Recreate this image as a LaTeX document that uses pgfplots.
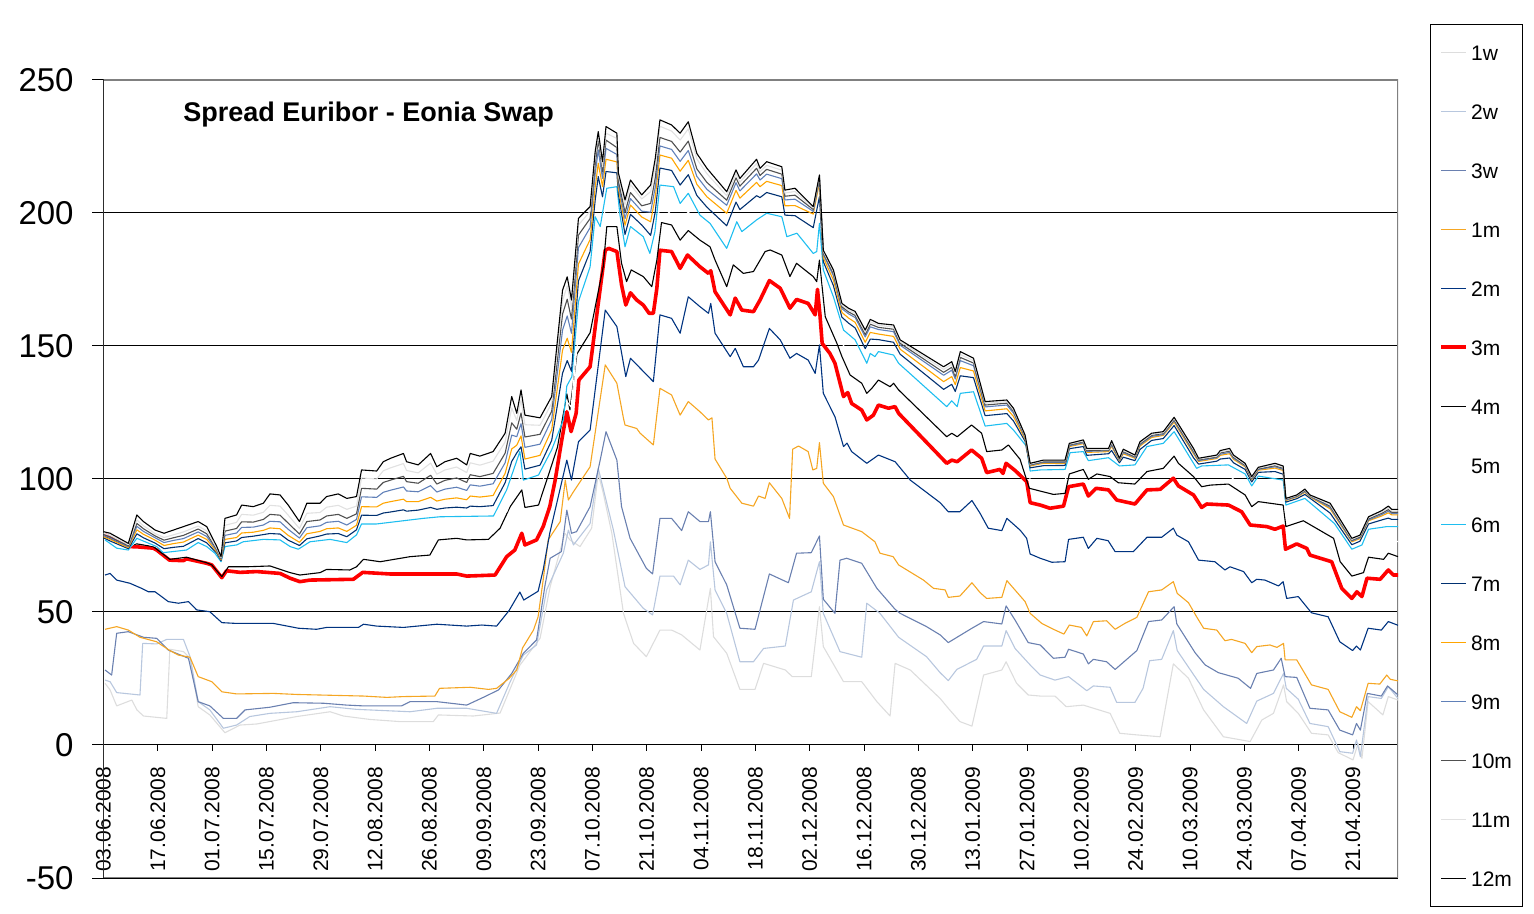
\documentclass[border=0pt]{standalone}
\usepackage{pgfplots}
\pgfplotsset{compat=1.18}
\usepackage{pgfplotstable}
\usepackage{fontspec}
\setmainfont{Liberation Sans}
\definecolor{c1w}{RGB}{221,221,221}
\definecolor{c2w}{RGB}{184,199,222}
\definecolor{c3w}{RGB}{106,128,176}
\definecolor{c1m}{RGB}{245,166,35}
\definecolor{c2m}{RGB}{0,51,128}
\definecolor{c6m}{RGB}{30,190,240}
\definecolor{c7m}{RGB}{0,48,112}
\definecolor{c8m}{RGB}{255,165,0}
\definecolor{c9m}{RGB}{96,128,184}
\definecolor{c10m}{RGB}{80,80,80}
\definecolor{c11m}{RGB}{225,225,225}
\definecolor{frame}{RGB}{128,128,128}

% upper cluster: 12m, 11m, 10m, 9m, 8m, 7m
\pgfplotstableread{
d s12 s11 s10 s9 s8 s7
0 80.2 79.6 79.2 78.8 78.3 77.9
1.7 79.6 78.8 78.3 77.8 77.3 76.7
6.4 75.8 75.3 74.9 74.6 74.2 73.8
8.6 86.5 84.6 83.3 82.2 80.9 79.4
10.3 84 82.4 81.3 80.3 79.2 77.9
13.3 80.8 79.5 78.6 77.9 77 75.9
15.6 79.6 78 77 76.1 75 73.8
18 80.8 79 77.9 76.9 75.7 74.3
20.6 82.1 80.1 78.8 77.6 76.3 74.7
24.4 84 82.3 81.2 80.1 78.9 77.6
26.6 82.1 80.5 79.4 78.4 77.3 76
29.2 74.6 73.9 73.5 73.1 72.6 72.1
30.3 70.8 70.4 70.1 69.9 69.6 69.3
31.3 85.2 82.6 80.4 78.8 77.3 76
34.3 86.5 83.7 81.4 79.7 78 76.7
35.6 90.2 86.7 83.9 81.8 79.7 78
38.6 89.6 86.4 83.8 81.9 80 78.5
41.2 90.9 87.5 84.8 82.7 80.7 79.1
42.9 94.4 90.1 86.7 84.1 81.6 79.5
45.5 94 89.8 86.4 83.9 81.3 79.3
47.6 90.2 86.4 83.4 81.1 78.8 77
50.5 84 81.4 79.3 77.8 76.2 75
52.4 90.9 87.1 84 81.7 79.4 77.5
55.8 90.9 87.4 84.6 82.4 80.3 78.6
57.5 93.4 89.4 86.1 83.7 81.3 79.3
60.5 94.4 90.1 86.7 84.1 81.6 79.5
62.7 92.7 88.6 85.2 82.7 80.3 78.3
65.2 93.4 89.8 86.9 84.8 82.6 80.9
66.5 103.4 100.4 96.5 93.3 89.6 86.4
70.4 103 100 96.2 93.1 89.5 86.3
72.1 106.5 103.1 98.7 95 90.9 87.2
74 107.8 104.2 99.6 95.8 91.5 87.6
77.3 109.6 105.8 101 97 92.4 88.4
78.1 106.5 103.2 99 95.5 91.5 87.9
81.1 105.3 102.3 98.4 95.2 91.5 88.3
84.3 109.6 106 101.4 97.5 93.1 89.3
85.9 104.6 101.8 98.1 95.1 91.7 88.6
88 106.5 103.4 99.5 96.2 92.4 89.1
91 107.8 104.5 100.4 96.9 92.9 89.4
93.6 105.3 102.4 98.7 95.7 92.2 89.1
94.5 109.6 106.1 101.6 97.8 93.6 89.8
97 108.6 105.2 100.9 97.3 93.2 89.6
100.4 110.3 106.7 102.1 98.2 93.8 90
103.5 117.2 113.9 109.7 106.1 102.1 98.6
105.2 131 126.7 121.1 116.5 111.3 106.6
106.5 124.7 122 118.7 115.9 112.7 109.8
107.6 133.5 129.7 124.8 120.8 116.2 112.1
108.6 124 120.4 115.8 111.9 107.5 103.7
112.5 123 120.2 116.8 113.1 108.9 105.2
115.5 131 128.5 125.5 122.3 118.5 114.5
118.3 171 167 162 156 148.5 139.8
119.5 176 172.6 167.6 161.3 152.9 144.5
120.6 167.3 164.4 160.1 154.8 147.6 140.5
122.4 198 195.5 191.7 187 180.8 174.5
125.4 202.4 200.6 197.9 194.5 190 185.5
126.7 223 221.1 218.1 214.5 209.6 204.7
127.5 230.6 229.3 227.4 223.7 218.7 213.7
128.6 219.3 217.4 215.5 213 209.9 206.1
129.5 232.5 230 227.4 224.3 220.2 215.6
132.3 230 228 224.6 222 219.2 215.1
132.7 215 213.9 212 210.6 209.1 206.9
134.4 204.9 203.1 200.2 197.9 195.4 191.9
135.8 212.4 210.7 207.7 205.4 203 199.5
138.7 206.8 205.3 202.7 200.7 198.5 195.5
141 210.5 208 203.6 200.3 196.7 191.6
142.2 220.6 217.9 213.3 209.8 206 200.5
143.4 235 232.6 228.4 225.2 221.8 216.9
146.4 233.1 230.8 226.9 223.9 220.6 216
148.6 230 227.4 222.9 219.4 215.7 210.5
150.7 234.3 231.6 227 223.5 219.8 214.4
152.9 222.4 220.3 216.6 213.8 210.8 206.6
155.5 216.8 214.8 211.5 208.9 206.1 202.2
160.6 208 206.5 204.8 202.9 199.9 195.2
163 216.2 214.8 213.2 211.4 208.5 204.1
164 213 211.6 210.1 208.3 205.6 201.3
168.3 220.2 218.6 216.8 214.7 211.5 206.5
169.2 216.8 215.5 214.1 212.4 209.9 205.8
170.9 219.3 217.9 216.4 214.6 211.9 207.7
174.8 217.4 216.1 214.6 212.9 210.3 206.1
175.6 208.6 207.5 206.3 204.9 202.7 199.2
178.2 209.3 208.1 206.7 205.2 202.8 199
182.9 202.4 201.9 201.3 200.6 199.6 194.5
184.5 214.3 213.8 213.2 212.5 211.4 206.1
185.5 186 185.5 185 184.4 183.2 181.7
188.1 178.6 177.9 177.2 176.4 174.8 172.7
190.3 166 165.4 164.7 164 162.6 160.8
192 164.2 163.5 162.8 162.1 160.5 158.6
193.7 163 162.3 161.5 160.7 158.9 156.8
196.3 156 155.2 154.3 153.4 151.4 149
197.6 160 159.1 158.2 157.2 155.1 152.6
199.7 158.5 157.8 157 156.2 154.5 152.4
203.6 157.9 157.1 156.3 155.4 153.6 151.4
205.3 152.3 151.7 151 150.3 148.8 146.9
216.5 142.2 141.2 140.1 139 136.6 133.7
218.6 144.1 143.1 142 140.9 138.5 135.6
219.5 140.4 139.5 138.6 137.6 135.5 132.9
220.8 147.9 146.8 145.7 144.5 141.9 138.8
224.2 145.4 144.5 143.6 142.6 140.6 138.1
227.2 129.1 128.5 127.8 127.1 125.6 123.8
232.8 129.7 129.1 128.5 127.8 126.4 124.6
234.5 126.6 126 125.5 124.8 123.5 121.8
237.5 116.5 116.2 115.9 115.6 115 114.2
238.8 105.9 105.6 105.4 105.2 104.9 104.2
242.2 107.1 106.8 106.5 106.2 105.9 105
247.8 107.1 106.8 106.5 106.2 105.9 105.1
248.9 113.4 113.1 112.8 112.5 112.2 111.4
252.5 114.7 114.3 114 113.6 113.3 112.2
253.4 111.5 111.1 110.7 110.4 110 108.9
259 111.5 111.2 110.9 110.6 110.3 109.5
259.8 114.4 113.8 113.3 112.8 112.3 110.7
261.8 107.8 107.5 107.3 107.1 106.8 106.1
262.8 111.2 110.7 110.3 109.9 109.5 108.2
265.8 109 108.7 108.4 108.1 107.8 106.9
267.1 114 113.6 113.2 112.8 112.4 111.1
270.1 117.2 116.8 116.4 116 115.6 114.5
273.1 117.8 117.4 117.1 116.7 116.4 115.2
275.9 123.2 122.7 122.3 121.9 121.4 120.1
280.9 111.5 111 110.5 110 109.5 108
282.2 107.8 107.5 107.2 106.9 106.6 105.6
286.9 109 108.6 108.3 108 107.7 106.7
287.8 110.7 110.2 109.8 109.3 108.9 107.5
290.2 111.5 110.9 110.5 110 109.5 107.9
291.2 109 108.6 108.2 107.8 107.4 106.1
294.2 105.9 105.5 105.2 104.9 104.6 103.6
295.9 100.9 100.6 100.3 100 99.7 98.9
297.6 104.4 104.1 103.8 103.6 103.3 102.5
301.9 105.9 105.4 105 104.6 104.1 102.8
304 104.9 104.4 104 103.6 103.2 101.8
304.7 92.7 92.5 92.3 92.1 91.9 91.3
307.5 94 93.8 93.6 93.4 93.2 92.6
309.6 96.2 95.9 95.6 95.3 95 94.2
310.9 94 93.8 93.7 93.5 93.3 92.8
316.1 90.9 90.3 89.8 89.3 88.8 87.2
321.7 77.7 77.3 77 76.7 76.4 75.3
323.8 78.9 78.6 78.2 77.9 77.6 76.6
326 85.8 85.4 85 84.6 84.3 83.1
329.4 88.1 87.6 87.1 86.6 86.1 84.6
331.1 89.8 89.1 88.5 87.9 87.3 85.3
332 88.6 88 87.5 87 86.5 84.8
333.6 88.6 88 87.5 87 86.5 84.8
}\upper

\begin{document}
\begin{tikzpicture}
\path[use as bounding box] (-51.75bp,-18bp) rectangle (715.25bp,439bp);
\begin{axis}[
  scale only axis, width=647.25bp, height=399bp,
  xmin=0, xmax=333.6, ymin=-50, ymax=250,
  enlargelimits=false,
  axis x line=middle, axis y line=left,
  axis line style={-, black, line width=0.5bp},
  x axis line style={-}, y axis line style={-},
  hide obscured x ticks=false, hide obscured y ticks=false,
  xtick align=center, ytick align=outside, ytick pos=left,
  xtick style={black, line width=0.5bp, /pgfplots/major tick length=3bp, yshift=-1.5bp},
  ytick style={black, line width=0.5bp, /pgfplots/major tick length=5.7bp},
  xtick={0,14,...,322},
  xticklabels={03.06.2008,17.06.2008,01.07.2008,15.07.2008,29.07.2008,12.08.2008,26.08.2008,09.09.2008,23.09.2008,07.10.2008,21.10.2008,04.11.2008,18.11.2008,02.12.2008,16.12.2008,30.12.2008,13.01.2009,27.01.2009,10.02.2009,24.02.2009,10.03.2009,24.03.2009,07.04.2009,21.04.2009},
  xticklabel shift=8.5bp,
  xticklabel style={rotate=90, anchor=east, inner sep=0pt, font=\fontsize{10.5bp}{12bp}\selectfont},
  ytick={-50,0,50,100,150,200,250},
  yticklabels={-50,0,50,100,150,200,250},
  yticklabel style={font=\fontsize{16.5bp}{18bp}\selectfont, inner sep=0pt, xshift=-10.5bp},
  ymajorgrids, major grid style={black, line width=0.5bp},
  every axis plot/.append style={line width=0.55bp, line join=round},
  legend style={at={(1.02472,1.06955)}, anchor=north west, draw=black, line width=0.5bp,
    inner xsep=4.5bp, inner ysep=9.8bp, row sep=21.35bp,
    font=\fontsize{10.5bp}{12bp}\selectfont,
    nodes={inner sep=0pt, text height=8.15bp, text depth=0bp, text width=21bp, align=left},
    /tikz/every odd column/.append style={column sep=1.5bp}},
  legend cell align=left,
  legend image code/.code={\draw[#1] (0bp,0.25bp) -- (12.5bp,0.25bp);},
]
\draw[frame, line width=0.6bp] (rel axis cs:0,0) rectangle (rel axis cs:1,1);

% 1w
\addplot[c1w] coordinates {(0.4,23.2)(1.7,20.7)(3.4,14.7)(7.3,16.9)(8.6,13.2)(10.3,10.9)(16.3,10)(17.1,36)(20.6,35.1)(22.3,32.6)(24.4,14.4)(27.4,11.3)(31.3,4.6)(35.2,7.5)(39.5,7.9)(49.8,10.7)(58.4,12.5)(61.8,10.9)(68.7,9.6)(76.4,8.8)(85,8.8)(86.3,11.3)(95.3,10.9)(102.2,12)(107.3,30)(112.5,40.1)(115.1,59.5)(118.9,79.6)(120.2,77.1)(122.8,74.6)(125.8,81.5)(127.5,102.1)(128.8,94.6)(131,79.6)(134,49.5)(136.6,38.2)(139.9,33.2)(143.4,43.2)(146.4,43.2)(149,41.4)(153.7,35.7)(156.4,58.9)(157.2,40.7)(160.6,34.5)(164,20.9)(167.9,20.9)(170.1,30.7)(175.7,28.2)(177.5,25.7)(182.4,25.7)(184.5,52)(185.5,37)(190.7,23.8)(195.4,23.8)(199.3,16.3)(202.7,10.9)(204,30.7)(207.9,28.2)(215.6,17.5)(217.7,13.8)(220.7,8.8)(223.8,7.1)(226.8,26.3)(231.5,28.2)(232.6,31.3)(235.3,23.2)(238.3,18.8)(241.4,18.4)(245.2,18.4)(248.1,14.4)(252.5,15)(259.4,11.9)(261.9,4.4)(266.3,3.8)(272.3,3.1)(275.7,30.5)(279.6,25.1)(283.5,13.2)(288.6,3.1)(295.5,1.3)(298.5,9.4)(301.5,11.9)(304.1,22.6)(304.9,16.3)(307.9,11.9)(311.3,4.4)(315.6,3.8)(318.2,-2.9)(322,-5.6)(323.3,0.6)(324.3,-5)(325.9,16.3)(329.7,11.3)(331.1,18.2)(333.6,16.9)};
\addlegendentry{1w}
% 2w
\addplot[c2w] coordinates {(0.4,24.4)(1.7,23.8)(3.4,19.7)(9.4,18.8)(10.1,38.2)(13.7,38)(16.3,39.7)(20.6,39.7)(22.3,33.2)(24.4,16.3)(27.4,13.2)(30.9,6.3)(34.3,7.5)(37.7,10.7)(42.9,11.9)(49.8,12.5)(58.4,14.4)(65.2,13.4)(79,12.5)(85.9,13.8)(93.6,13.8)(101.3,11.9)(104.8,23.8)(108.2,33.8)(111.6,37.6)(114.2,58.3)(118.5,72.1)(119.8,80.8)(121.1,75.2)(125.4,83.3)(127.5,104)(131.4,80.8)(134.4,59.5)(139.1,51.4)(141.5,48.9)(143.4,63.5)(146.9,63.5)(148.6,60.2)(150.7,69.5)(153.7,66)(155.9,67.7)(156.4,76.4)(157.6,58.3)(160.6,49.5)(164,31.3)(167.5,31.3)(170.1,36.3)(175.7,37.2)(177.8,54.5)(182.4,57.6)(184.5,68.9)(185.5,49.5)(189.8,35.1)(195.4,33)(196.7,53.3)(200.1,49.5)(204.9,40.5)(212.1,33.2)(215.6,27.2)(217.7,24.2)(219.9,28.4)(225,32.2)(226.8,37.2)(231.5,37.2)(232.6,43)(234.9,36.3)(238.8,30.1)(241.4,26.3)(245.2,24.4)(248.7,25.7)(253.4,20.4)(255.1,22.2)(259.4,21.7)(261.1,16)(265.8,16)(267.9,21.3)(269.6,31.7)(272.7,32.2)(275.7,43)(276.7,35.5)(283.5,20.9)(288.6,14.4)(294.6,8.1)(297.2,16.5)(301.5,19.4)(304.1,26.9)(304.8,21.3)(307.9,17.2)(310.9,8.1)(315.6,6.9)(318.6,-2.5)(321.9,-3.1)(322.9,1.9)(323.9,-4.4)(325.9,18.2)(329.3,17.5)(331.1,21.9)(333.6,17.5)};
\addlegendentry{2w}
% 3w
\addplot[c3w] coordinates {(0.4,28.2)(2.1,26.3)(3.4,42)(6.4,42.6)(10.3,40.5)(13.7,40.1)(16.7,35.7)(21.9,32.6)(24.4,16.3)(27.4,14.7)(30.9,10)(34.3,10)(36.5,13.2)(42.9,14.2)(48.9,15.9)(56.7,15.7)(62.7,15)(67,14.7)(76.8,14.7)(79,16.3)(85.9,16.3)(93.6,15)(98.3,18.2)(101.8,20.7)(105.2,26.9)(108.2,34.5)(111.6,39.5)(113.8,60.2)(115.1,70.2)(118,72.7)(119.4,88.3)(120.6,79.6)(121.9,80.2)(125.4,89.6)(128,107.1)(129.5,117.8)(132.3,107.1)(133.5,89.6)(135.7,77.7)(139.9,66.4)(141.5,64.3)(143.4,85.2)(146.4,85.2)(149,80.6)(150.7,87.7)(153.7,84)(155.9,84)(156.4,87.7)(157.6,68.9)(160.6,60.2)(164,43.9)(167.9,43.5)(171.6,64.3)(176.5,61)(178.6,72.1)(182.4,72.3)(184.5,78.6)(185.5,54.8)(188.5,49.5)(189.8,69.5)(191.5,70.2)(195.4,68.3)(199.3,58.9)(204,51)(205.3,49.5)(212.1,44.5)(215.6,41.4)(217.7,38.5)(223.8,43.9)(226.8,46.4)(231.5,45.5)(232.6,52.3)(234.9,47)(238.3,38.5)(241.4,37.6)(244.8,32.6)(247.8,33)(248.7,36)(252.5,34.2)(253.8,30.5)(255.1,32.2)(258.5,31.3)(260.7,28.4)(266.3,35.5)(269.3,46.4)(272.7,47)(275.9,52)(276.6,45.5)(281.3,34.7)(283.9,30.1)(287.3,27.2)(292.4,25.1)(295.6,21.3)(297.2,26.9)(301.5,28.2)(303.5,32.6)(304.5,25.7)(307.5,25.4)(310.9,13.8)(315.6,13.2)(318.6,5.6)(321.9,3.8)(322.9,8.1)(323.9,5.6)(325.7,19.4)(329.3,18.4)(330.9,22.2)(333.6,18.8)};
\addlegendentry{3w}
% 1m
\addplot[c1m] coordinates {(0.4,43.5)(3.4,44.5)(6.4,43.2)(9.4,40.5)(13.7,38.8)(17.1,35.5)(19.3,33.8)(22.3,33)(24.4,25.7)(27.9,23.8)(30.5,20)(34.3,19.2)(43.8,19.4)(49.8,19)(67,18.4)(73,17.9)(77.3,18.2)(85.4,18.4)(86.6,21.3)(94.5,21.7)(99.2,20.9)(101.3,21.3)(104.5,25)(106.5,28.2)(108,36.5)(110.8,43.2)(112,48.2)(113.3,62)(114.6,77.1)(117.7,84)(119,99.6)(119.8,92.1)(121.1,95.2)(125.4,104.6)(129.3,142.9)(132.3,136)(134,122.8)(134.4,120.3)(137.4,119)(138.3,117.2)(141.7,112.8)(143.4,134.1)(146.4,131.6)(148.6,124)(150.7,129.1)(153.7,125.3)(155.9,122.2)(156.8,123)(157.6,107.5)(160.6,100.3)(161.5,96.5)(164.5,90.9)(167.5,89.8)(168.8,93.6)(170.5,92.7)(171.6,98.6)(174.8,92.7)(176.8,85.2)(177.6,111.2)(179.1,112.4)(181.6,110.3)(182.8,103.4)(183.8,104)(184.5,113.7)(185.5,98.4)(188.1,93.4)(190.7,82.7)(195.4,80.2)(198.8,76.4)(200.1,72.1)(203.5,70.8)(204.9,67.7)(211.3,62)(213.9,58.9)(216.9,58.3)(217.7,55.5)(220.7,56)(223.8,61)(225.9,57.3)(227.6,55.1)(231.5,55.5)(232.8,61.8)(237.5,53.9)(238.8,49.5)(241.8,45.7)(244.8,43.5)(247.5,41.7)(248.9,45.1)(252,44.2)(253.4,41)(255.1,46.4)(258.5,46.7)(260.7,43.5)(263.2,45.7)(266.3,48)(269.3,57.6)(272.7,58.3)(275.7,61.4)(276.7,57)(279.6,53.5)(281.7,48.2)(283.5,43.9)(286.9,43.2)(289,39.2)(290.7,39.7)(294.2,38.2)(295.9,34.7)(297.2,37)(300.6,37.6)(302.4,36.7)(304.1,38.2)(304.5,32)(307.5,32)(311.3,22.6)(315.6,20.9)(318.6,12.5)(321.7,10.4)(322.9,14.4)(323.9,12.9)(325.9,23.2)(328.9,22.9)(330.7,26.3)(331.6,24.7)(333.6,24.1)};
\addlegendentry{1m}
% 2m
\addplot[c2m] coordinates {(0.4,63.9)(1.7,64.5)(3.4,62)(6.8,60.8)(9.8,58.9)(11.6,57.6)(13.3,57.6)(16.7,53.9)(19.3,53.3)(21.9,53.9)(24,50.8)(27.4,50.1)(30.5,46)(34.3,45.7)(43.8,45.7)(48.1,44.5)(50.2,43.9)(54.9,43.5)(57.5,44.2)(65.7,44.2)(67,45.4)(70.4,44.7)(77.3,44.2)(85.9,45.4)(93.6,44.7)(97.5,45.1)(101.3,44.7)(104.5,50.5)(107.3,57.5)(108.3,54.5)(112,57.8)(113.3,65.8)(115,79.6)(119.4,107.1)(120.6,99.6)(122.4,114)(125.4,118.4)(129.3,163.5)(132.3,157.3)(134.6,138.5)(135.8,145.4)(141.7,136.6)(143.4,161.7)(146.4,160.4)(148.6,154.8)(150.7,168.5)(153.7,164.8)(155.9,162.3)(156.5,166)(157.6,154.8)(161.5,146)(162.8,149.1)(164.9,142.2)(167.5,142.2)(168.8,144.7)(171.6,156.6)(174.4,152.3)(176.9,145.4)(178.6,147.2)(181.6,144.7)(183.4,139.7)(184.5,150.4)(185.5,132.2)(188.5,123.4)(190.7,112.2)(191.6,113.5)(192.8,110.3)(196.7,105.9)(199.7,109)(204,106.5)(207.9,99.6)(215.6,91.1)(217.7,87.7)(220.7,87.7)(223.8,91.9)(225.9,87.1)(228,81.5)(231.5,80.6)(232.8,85.2)(236.2,80.8)(237.9,77.7)(238.8,71.8)(241.4,70.2)(244.4,68.7)(247.8,68.9)(248.7,77.3)(252.5,78.1)(253.8,73.9)(256,77.7)(258.9,76.8)(260.7,72.7)(265.4,72.7)(268.9,78.1)(272.7,78.1)(275.7,81.5)(276.6,78.9)(279.6,76.4)(282.2,69.5)(286.4,68.9)(289,65.8)(290.3,67)(293.8,65.2)(295.9,61)(297.2,62.3)(299.3,62)(302.8,59.8)(304,61.4)(304.9,55.1)(307.9,55.8)(311.3,49.7)(315.6,48.2)(318.6,38.8)(321.9,35.5)(322.9,37.2)(323.9,35.7)(325.9,43.9)(329.3,43.2)(331.1,46.4)(333.6,45)};
\addlegendentry{2m}
% 3m
\addplot[red, line width=1.8bp] coordinates {(0.4,79)(6.4,74.6)(8.6,74.5)(12.8,74)(13.7,73.3)(17,69.5)(20.6,69.3)(21.4,70)(26.6,68.3)(27.9,67.7)(30.5,62.9)(31.7,65.5)(35.2,64.9)(39.5,65.2)(45.5,64.5)(48.1,62.7)(50.6,61.4)(53.2,62)(64.4,62.3)(66.8,64.9)(73.8,64.3)(91,64.3)(93.6,63.5)(100.9,63.9)(103.9,70.8)(106,73.3)(107.8,79.6)(108.6,75.2)(111.6,77.1)(113.3,82.1)(115,89.6)(116.4,99.6)(118.1,114.7)(119.4,125.3)(120.5,117.8)(121.8,124.7)(122.5,137.2)(125.4,142.2)(127.5,166)(129.3,186)(130.2,186.7)(132.3,185.5)(133.5,173)(134.6,165.4)(135.8,170)(137.4,167.3)(139.1,165.4)(140.6,162.3)(141.7,162.3)(142.6,171.7)(143.4,186)(146.4,185.5)(148.6,179.2)(150.5,184.2)(153.7,179.8)(155.9,177.3)(156.5,178.3)(157.6,170.4)(161.5,161.7)(162.8,168)(164.5,163.5)(167.5,162.9)(169.2,167.3)(171.6,174.6)(174.4,171.7)(176.9,164.2)(178.6,167.5)(181.6,166)(183.4,161.7)(184,171.3)(184.6,162.3)(185.2,151)(187.2,147.2)(188.5,143.5)(190.7,131)(191.8,132.5)(192.8,128.4)(195.4,125.9)(196.7,122.2)(198.4,124)(199.7,127.8)(202.3,126.6)(204,127.2)(204.9,124.7)(217.3,105.9)(218.6,107.1)(220,106.5)(223.7,110.9)(226.3,107.8)(227.6,102.4)(231,103.6)(231.8,102.1)(232.6,105.9)(235,103.1)(237.9,99)(238.8,91.1)(241.4,90.2)(243.9,89)(247.4,89.8)(248.7,97.1)(252.5,98.1)(253.8,93.6)(255.8,96.5)(259,95.9)(261.1,92.1)(265.8,90.6)(268.9,95.9)(272.3,96.1)(275.7,100.3)(277,97.4)(280.9,94)(283,89.3)(284.3,90.6)(289.9,90.2)(293.3,87.7)(295.5,82.7)(299.8,82.1)(301.9,81.1)(304,82.3)(304.6,73.6)(307.5,75.6)(310.1,73.9)(310.9,71.4)(316.5,68.9)(317.8,63.9)(319.1,58.9)(321.7,55.1)(323,57.6)(324.3,55.8)(325.6,62.7)(329,62.3)(331.1,65.8)(332.4,63.9)(333.6,63.9)};
\addlegendentry{3m}
% 4m
\addplot[black] coordinates {(0.4,78.3)(6.4,74.9)(8.6,75.6)(12.8,74.6)(17.1,69.8)(21.4,70.6)(26.6,68.5)(27.9,67.7)(30.5,63.3)(32.2,67)(36.9,67)(42.9,67.3)(48.1,64.8)(50.6,63.9)(55.8,64.8)(57.5,66)(63.5,65.8)(65.2,67)(67,69.8)(71.3,68.9)(79,70.8)(84.1,71.4)(86.3,77.1)(91,77.7)(93.6,77.1)(99.2,77.3)(102.2,81.5)(104.8,89.6)(107.8,95.9)(108.6,89.3)(112.1,90.2)(115,103)(117,112)(119.4,132)(120.2,126)(122,147)(125.4,155)(128.8,180)(129.7,194.9)(132.3,194.9)(133.5,181.1)(134.8,174.2)(136,178.6)(139.1,176.1)(141.3,172.3)(142.6,182.3)(143.8,196.4)(146.4,195.5)(148.6,189.8)(150.7,193.4)(153.7,189.8)(156.3,187.3)(157.6,182.3)(160.6,172.3)(162.3,180.5)(164.9,177.3)(167.5,178)(170.5,185.5)(171.8,186.1)(174.8,184.2)(176.9,176.1)(178.6,181.1)(182.9,176.1)(183.8,174.2)(184.5,182.3)(185.5,167.9)(186,161)(189,151)(190.3,146)(192.4,139.1)(195.4,136)(196.7,132.2)(198,134.1)(199.7,137.2)(202.7,134.7)(203.6,136)(204.9,133.5)(217.3,115.9)(218.6,117.2)(220,115.9)(223.7,120.3)(226.3,117.2)(227.6,110.3)(231.5,110.9)(233.2,112.8)(236.2,107.4)(237.9,99.6)(238.6,96.5)(244.8,94.2)(247.8,94.6)(248.9,101.9)(252.5,103.6)(253.8,99.9)(256,101.9)(259.4,100.9)(261.5,98.6)(265.8,98.1)(268.9,102.8)(273.1,104)(275.9,108.6)(277,105.9)(280.9,100.9)(283,97.1)(285.2,97.7)(289.9,98.1)(294.2,94)(295.9,89.6)(297.6,91.5)(304,90.2)(304.7,82.1)(309.2,84.3)(311.8,82.1)(317,77.7)(318.7,68.9)(321.7,63.5)(324.7,64.8)(326,70.6)(329.9,69.8)(331.1,72.1)(333.6,70.8)};
\addlegendentry{4m}
% 5m (white)
\addplot[white] coordinates {(0.4,77.8)(6.4,74)(8.6,76.5)(20.6,72)(29,69)(30.5,66)(31.5,71)(45.5,72)(50.5,69)(65.2,73)(66.8,76.5)(85.9,80)(100.4,81.5)(104,88)(107.6,102)(108.6,94.5)(112.5,96)(115.5,110)(119,130)(120.5,127)(122.4,155)(125.4,167)(127,190)(129.5,202)(132.3,202)(134.6,181)(136,186.5)(140.8,178.5)(143.4,203)(148.6,196.7)(150.7,200.4)(153.7,194.5)(157.6,188)(160.6,179.5)(163.2,188)(168.3,188)(171.6,193)(176.9,183.6)(178.6,186.7)(182.9,180.5)(184.5,189)(185.5,173)(190.3,151)(196.7,138)(204.9,138.5)(217.3,121.5)(220.8,124.5)(224.2,126)(227.4,115)(233,116.8)(237.9,106)(238.8,99.8)(247.8,99.1)(248.9,106)(252.5,107)(259,104.5)(265.8,101.7)(268.9,107.5)(273.1,108.7)(275.9,113.2)(281,102.7)(283,101)(289.9,101.7)(295.9,93.5)(304,95)(304.7,86.2)(309.6,88.5)(317,80.5)(321.7,68.5)(324.5,70)(326,75.8)(330.7,76.5)(333.6,76.5)};
\addlegendentry{5m}
% 6m
\addplot[c6m] coordinates {(0.4,77.1)(3.4,74)(6.4,73.3)(8.6,77.7)(13.7,74.6)(15.4,72.3)(21.4,73.3)(24.4,76.1)(26.6,74.6)(28.7,72.1)(30.3,68.9)(31.3,74.6)(34.3,75.2)(36,76.4)(41.2,77.3)(45.5,77.1)(48.1,74.6)(50.2,73.6)(53.2,76.4)(58.4,77.3)(62.7,76.1)(65.2,79)(66.5,83.1)(70.4,83.1)(82.4,85.2)(86.7,85.8)(100.5,86.1)(103.9,95.9)(107.3,110.3)(108.2,99.6)(112.1,101.5)(115.5,111)(118.5,122.2)(119.4,135)(120.7,138.5)(122.4,166.7)(125.4,179.8)(126.7,198.6)(128,194.9)(129.7,209.3)(132.3,209.9)(133.1,199.2)(134.4,187.3)(135.8,194.9)(139.1,191.1)(140.8,184.8)(142.1,193)(143.4,210.5)(146.9,209.9)(148.6,203.6)(150.7,207.4)(153.7,199.2)(156.3,196.1)(160.6,186.7)(163.2,196.7)(164.5,193)(168.3,197.4)(170.9,199.9)(174.8,198.6)(176.1,191.1)(178.7,192.4)(182.9,184.8)(183.8,185.5)(184.5,196.1)(185.5,178.6)(188.1,168.5)(190.7,156)(193.7,152.3)(196.7,143.5)(197.6,147.2)(198.8,146)(199.7,147.9)(203.6,146.6)(204.9,143.5)(217.3,127.2)(218.6,129.4)(220,127.2)(220.8,132.2)(224.2,132.8)(227.2,119.9)(232.8,120.9)(234.5,118.4)(237.9,112.2)(238.8,103)(241.4,103.4)(247.8,103.6)(249.1,109.9)(252.5,110.3)(253.8,106.9)(259,108)(261.8,104.9)(265.8,105.3)(268.9,112.2)(273.1,113.4)(275.9,117.8)(281.7,104)(283,104.9)(289.9,105.3)(294.2,101.9)(295.9,97.4)(297.6,101.1)(304,99.6)(304.7,90.2)(309.6,92.7)(317.2,83.3)(321.7,73.6)(324.3,75.2)(326,81.1)(330.7,82.1)(333.6,82.1)};
\addlegendentry{6m}
\addplot[c7m] table[x=d, y=s7] {\upper};
\addlegendentry{7m}
\addplot[c8m] table[x=d, y=s8] {\upper};
\addlegendentry{8m}
\addplot[c9m] table[x=d, y=s9] {\upper};
\addlegendentry{9m}
\addplot[c10m] table[x=d, y=s10] {\upper};
\addlegendentry{10m}
\addplot[c11m] table[x=d, y=s11] {\upper};
\addlegendentry{11m}
\addplot[black] table[x=d, y=s12] {\upper};
\addlegendentry{12m}

\node[anchor=base west, inner sep=0pt, font=\bfseries\fontsize{13.5bp}{16bp}\selectfont] at (rel axis cs:0.0614,0.9478) {Spread Euribor - Eonia Swap};
\end{axis}
\end{tikzpicture}
\end{document}
